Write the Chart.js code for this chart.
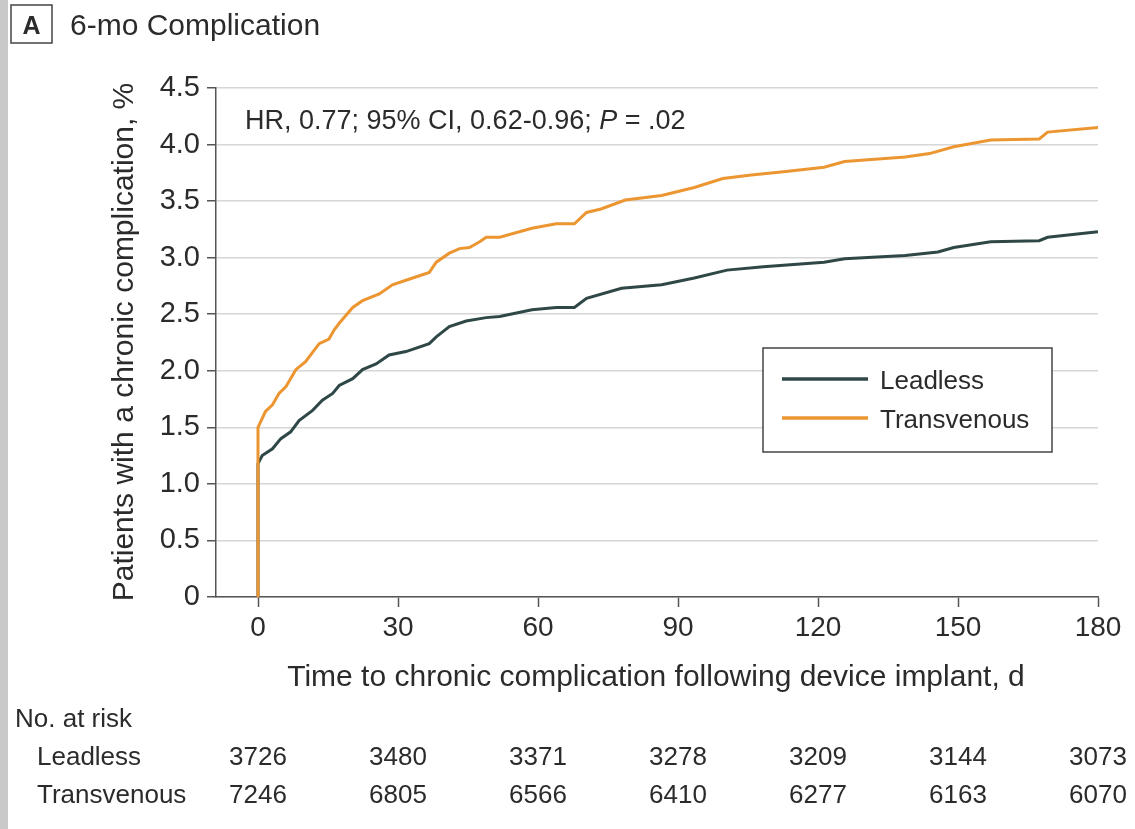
<!DOCTYPE html>
<html>
<head>
<meta charset="utf-8">
<script src="https://cdn.jsdelivr.net/npm/chart.js@4.4.1/dist/chart.umd.min.js"></script>
<style>
  html, body { margin: 0; padding: 0; background: #fff; }
  #wrap { width: 1135px; height: 829px; position: relative; }
</style>
</head>
<body>
<div id="wrap"><canvas id="km" width="1135" height="829"></canvas></div>
<script>
// cumulative incidence, % (read at each day)
const leadlessDays = [0, 0, 0.9, 3.1, 4.9, 7, 8.8, 11.7, 13.8, 16, 17.4, 20.3, 22.4, 25.3, 28.1, 31.7, 36.7, 38.2, 41, 44.6, 48.9, 51.8, 58.7, 63.9, 67.8, 70.4, 77.9, 86.5, 93.5, 100.5, 108.3, 121.3, 125.7, 138.7, 145.7, 149.1, 157, 167.4, 169.2, 180]
const leadlessPct = [0, 1.18, 1.25, 1.31, 1.40, 1.46, 1.56, 1.65, 1.74, 1.80, 1.87, 1.93, 2.01, 2.06, 2.14, 2.17, 2.24, 2.30, 2.39, 2.44, 2.47, 2.48, 2.54, 2.56, 2.56, 2.64, 2.73, 2.76, 2.82, 2.89, 2.92, 2.96, 2.99, 3.02, 3.05, 3.09, 3.14, 3.15, 3.18, 3.23]

const transDays = [0, 0, 1.6, 3.1, 4.5, 6, 8.1, 10.2, 13.1, 15.2, 16.3, 17.4, 20.3, 22.4, 26, 28.8, 31.7, 34.6, 36.7, 38.2, 41, 43.2, 45.3, 47.5, 48.9, 51.8, 58.7, 63.9, 67.8, 70.4, 73.5, 78.7, 86.5, 93.5, 99.6, 105.7, 112.6, 121.3, 125.7, 138.7, 143.9, 149.1, 157, 167.4, 169.2, 180]
const transPct = [0, 1.50, 1.64, 1.70, 1.80, 1.86, 2.01, 2.08, 2.24, 2.28, 2.36, 2.42, 2.56, 2.62, 2.68, 2.76, 2.80, 2.84, 2.87, 2.96, 3.04, 3.08, 3.09, 3.14, 3.18, 3.18, 3.26, 3.30, 3.30, 3.40, 3.43, 3.51, 3.55, 3.62, 3.70, 3.73, 3.76, 3.80, 3.85, 3.89, 3.92, 3.98, 4.04, 4.05, 4.11, 4.15]

// number at risk table
const riskDays = [0, 30, 60, 90, 120, 150, 180]
const leadlessRisk = [3726, 3480, 3371, 3278, 3209, 3144, 3073]
const transRisk = [7246, 6805, 6566, 6410, 6277, 6163, 6070]

const FONT = '"Liberation Sans", Arial, sans-serif'
const INK = '#2b2b2b'
const GREEN = '#2f4847'
const ORANGE = '#ec9632'

const toPoints = (xs, ys) => xs.map((x, i) => ({ x: x, y: ys[i] }))

const extras = {
  id: 'extras',
  beforeDraw(chart) {
    const ctx = chart.ctx
    ctx.save()
    ctx.fillStyle = '#fff'
    ctx.fillRect(0, 0, chart.width, chart.height)
    ctx.fillStyle = '#c9c9c9'
    ctx.fillRect(0, 0, 8, chart.height)
    ctx.restore()
  },
  afterDraw(chart) {
    const ctx = chart.ctx
    const xs = chart.scales.x
    ctx.save()
    ctx.fillStyle = INK
    ctx.textBaseline = 'alphabetic'

    // panel letter + title
    ctx.strokeStyle = '#444'
    ctx.lineWidth = 1.5
    ctx.strokeRect(11, 5, 41, 38)
    ctx.font = 'bold 25px ' + FONT
    ctx.textAlign = 'center'
    ctx.fillText('A', 31.5, 34)
    ctx.textAlign = 'left'
    ctx.font = '30px ' + FONT
    ctx.fillText('6-mo Complication', 70, 35)

    // axis titles
    ctx.font = '30px ' + FONT
    ctx.textAlign = 'center'
    ctx.fillText('Time to chronic complication following device implant, d', 656, 686)
    ctx.save()
    ctx.translate(133, 342)
    ctx.rotate(-Math.PI / 2)
    ctx.fillText('Patients with a chronic complication, %', 0, 0)
    ctx.restore()

    // hazard ratio note
    ctx.textAlign = 'left'
    ctx.font = '27px ' + FONT
    let tx = 245
    const pre = 'HR, 0.77; 95% CI, 0.62-0.96; '
    ctx.fillText(pre, tx, 129)
    tx += ctx.measureText(pre).width
    ctx.font = 'italic 27px ' + FONT
    ctx.fillText('P', tx, 129)
    tx += ctx.measureText('P').width
    ctx.font = '27px ' + FONT
    ctx.fillText(' = .02', tx, 129)

    // legend
    ctx.fillStyle = '#fff'
    ctx.fillRect(763, 348, 289, 104)
    ctx.strokeStyle = '#444'
    ctx.lineWidth = 1.5
    ctx.strokeRect(763, 348, 289, 104)
    ctx.lineWidth = 3.5
    ctx.strokeStyle = GREEN
    ctx.beginPath(); ctx.moveTo(782, 379); ctx.lineTo(868, 379); ctx.stroke()
    ctx.strokeStyle = ORANGE
    ctx.beginPath(); ctx.moveTo(782, 418); ctx.lineTo(868, 418); ctx.stroke()
    ctx.fillStyle = INK
    ctx.font = '26px ' + FONT
    ctx.fillText('Leadless', 880, 389)
    ctx.fillText('Transvenous', 880, 428)

    // risk table
    ctx.fillText('No. at risk', 15, 727)
    ctx.fillText('Leadless', 37, 765)
    ctx.fillText('Transvenous', 37, 803)
    ctx.textAlign = 'center'
    riskDays.forEach((d, i) => {
      const px = xs.getPixelForValue(d)
      ctx.fillText(String(leadlessRisk[i]), px, 765)
      ctx.fillText(String(transRisk[i]), px, 803)
    })
    ctx.restore()
  }
}

new Chart(document.getElementById('km'), {
  type: 'line',
  data: {
    datasets: [
      {
        label: 'Leadless',
        data: toPoints(leadlessDays, leadlessPct),
        borderColor: GREEN,
        borderWidth: 3,
        pointRadius: 0,
        tension: 0,
        order: 1
      },
      {
        label: 'Transvenous',
        data: toPoints(transDays, transPct),
        borderColor: ORANGE,
        borderWidth: 3,
        pointRadius: 0,
        tension: 0,
        order: 0
      }
    ]
  },
  options: {
    responsive: false,
    animation: false,
    layout: { padding: { left: 0, right: 37, top: 88, bottom: 0 } },
    plugins: {
      legend: { display: false },
      tooltip: { enabled: false }
    },
    scales: {
      x: {
        type: 'linear',
        min: -9,
        max: 180,
        afterFit: s => { s.height = 232 },
        afterBuildTicks: s => { s.ticks = riskDays.map(v => ({ value: v })) },
        grid: { drawOnChartArea: false, tickLength: 10, tickColor: '#555', tickWidth: 1.5 },
        border: { color: '#555', width: 1.5 },
        ticks: { color: INK, font: { family: FONT, size: 28 }, padding: 4, maxRotation: 0 }
      },
      y: {
        min: 0,
        max: 4.5,
        afterFit: s => { s.width = 216 },
        grid: { color: '#d6d6d6', lineWidth: 1.5, tickColor: '#555', tickLength: 9, tickWidth: 1.5 },
        border: { color: '#555', width: 1.5 },
        ticks: {
          stepSize: 0.5,
          color: INK,
          font: { family: FONT, size: 29 },
          padding: 7,
          callback: v => v === 0 ? '0' : v.toFixed(1)
        }
      }
    }
  },
  plugins: [extras]
})
</script>
</body>
</html>
